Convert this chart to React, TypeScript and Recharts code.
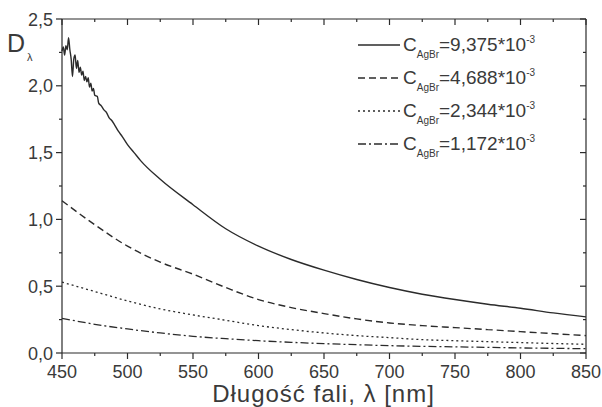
import { LineChart, Line, XAxis, YAxis } from 'recharts';

// wavelengths (nm) for the smooth series, every 25 nm
const grid = [450, 475, 500, 525, 550, 575, 600, 625, 650, 675, 700, 725, 750, 775, 800, 825, 850];

// C = 9,375e-3 : noisy start, then smooth
const solidNm = [
  450, 451, 452, 453, 454, 455, 456, 457, 458, 459, 460, 461, 462, 463, 464, 465, 466, 467, 468, 469,
  470, 471, 472, 473, 474, 475, 477, 478, 480, 482, 484, 486, 488, 490, 493, 496, 500, 505, 510,
  525, 550, 575, 600, 625, 650, 675, 700, 725, 750, 775, 800, 825, 850,
];
const solidD = [
  2.26, 2.29, 2.23, 2.3, 2.27, 2.36, 2.27, 2.2, 2.07, 2.2, 2.23, 2.13, 2.19, 2.1, 2.14, 2.08, 2.11, 2.04, 2.07, 2.03,
  2.06, 1.99, 2.02, 1.96, 1.98, 1.93, 1.92, 1.87, 1.85, 1.82, 1.8, 1.76, 1.74, 1.71, 1.66, 1.62, 1.56, 1.5, 1.44,
  1.3, 1.11, 0.93, 0.8, 0.7, 0.62, 0.55, 0.49, 0.44, 0.4, 0.365, 0.335, 0.3, 0.27,
];
const dashedD = [1.14, 0.96, 0.8, 0.68, 0.59, 0.49, 0.4, 0.34, 0.295, 0.255, 0.225, 0.205, 0.19, 0.175, 0.16, 0.145, 0.13];
const dottedD = [0.53, 0.46, 0.39, 0.33, 0.285, 0.245, 0.205, 0.175, 0.15, 0.13, 0.115, 0.1, 0.092, 0.085, 0.078, 0.071, 0.065];
const dashDotD = [0.26, 0.215, 0.18, 0.15, 0.125, 0.107, 0.092, 0.08, 0.07, 0.062, 0.055, 0.05, 0.046, 0.042, 0.038, 0.035, 0.032];

const legendValues = ['9,375', '4,688', '2,344', '1,172'];
const dashes = ['', '7 4', '2 3', '8 3 2 3'];

const X_MIN = 450;
const X_MAX = 850;
const Y_MIN = 0;
const Y_MAX = 2.5;
const xTicks = [450, 475, 500, 525, 550, 575, 600, 625, 650, 675, 700, 725, 750, 775, 800, 825, 850];
const yTicks = [0, 0.25, 0.5, 0.75, 1, 1.25, 1.5, 1.75, 2, 2.25, 2.5];

const toRows = (xs: number[], ys: number[]) => xs.map((x, i) => ({ x, y: ys[i] }));
const solidData = toRows(solidNm, solidD);
const dashedData = toRows(grid, dashedD);
const dottedData = toRows(grid, dottedD);
const dashDotData = toRows(grid, dashDotD);

const FONT = '"Liberation Sans", Arial, sans-serif';
const INK = '#2b2b2b';
const TXT = '#3a3a3a';

// chart layout (plot box follows from margin + axis sizes)
const W = 602;
const H = 407;
const MARGIN = { top: 19, right: 16, bottom: 0, left: 0 };
const Y_AXIS_W = 62;
const X_AXIS_H = 54;
const PLOT = {
  left: MARGIN.left + Y_AXIS_W,
  top: MARGIN.top,
  right: W - MARGIN.right,
  bottom: H - MARGIN.bottom - X_AXIS_H,
};

const isMajorX = (v: number) => v % 50 === 0;
const isMajorY = (v: number) => Math.abs(v * 2 - Math.round(v * 2)) < 1e-6;
const fmt = (v: number) => v.toFixed(1).replace('.', ',');

function BottomTick({ x, y, payload }: any) {
  const major = isMajorX(payload.value);
  return (
    <g>
      <line x1={x} x2={x} y1={y} y2={y + (major ? 6 : 3)} stroke={INK} strokeWidth={1.2} />
      {major && (
        <text x={x} y={y + 25} textAnchor="middle" fontSize={18} fill={TXT} fontFamily={FONT}>
          {payload.value}
        </text>
      )}
    </g>
  );
}

function LeftTick({ x, y, payload }: any) {
  const major = isMajorY(payload.value);
  return (
    <g>
      <line x1={x - (major ? 6 : 3)} x2={x} y1={y} y2={y} stroke={INK} strokeWidth={1.2} />
      {major && (
        <text x={x - 9} y={y + 6.5} textAnchor="end" fontSize={18} fill={TXT} fontFamily={FONT}>
          {fmt(payload.value)}
        </text>
      )}
    </g>
  );
}

// top and right edges of the frame with inward mirrored ticks
function Frame() {
  const px = (v: number) => PLOT.left + ((v - X_MIN) / (X_MAX - X_MIN)) * (PLOT.right - PLOT.left);
  const py = (v: number) => PLOT.bottom - ((v - Y_MIN) / (Y_MAX - Y_MIN)) * (PLOT.bottom - PLOT.top);
  return (
    <svg width={W} height={H} style={{ position: 'absolute', left: 0, top: 0, pointerEvents: 'none' }}>
      <line x1={PLOT.left} x2={PLOT.right} y1={PLOT.top} y2={PLOT.top} stroke={INK} strokeWidth={1.2} />
      <line x1={PLOT.right} x2={PLOT.right} y1={PLOT.top} y2={PLOT.bottom} stroke={INK} strokeWidth={1.2} />
      {xTicks.map((t) => (
        <line key={`t${t}`} x1={px(t)} x2={px(t)} y1={PLOT.top} y2={PLOT.top + (isMajorX(t) ? 6 : 3)} stroke={INK} strokeWidth={1.2} />
      ))}
      {yTicks.map((t) => (
        <line key={`r${t}`} x1={PLOT.right - (isMajorY(t) ? 6 : 3)} x2={PLOT.right} y1={py(t)} y2={py(t)} stroke={INK} strokeWidth={1.2} />
      ))}
    </svg>
  );
}

export default function App() {
  return (
    <div style={{ position: 'absolute', left: 0, top: 0, width: W, height: H, background: '#fff', fontFamily: FONT }}>
      <LineChart width={W} height={H} margin={MARGIN}>
        <XAxis
          dataKey="x"
          type="number"
          domain={[X_MIN, X_MAX]}
          ticks={xTicks}
          interval={0}
          height={X_AXIS_H}
          tickSize={0}
          tickMargin={0}
          tickLine={false}
          axisLine={{ stroke: INK, strokeWidth: 1.2 }}
          tick={<BottomTick />}
        />
        <YAxis
          type="number"
          domain={[Y_MIN, Y_MAX]}
          ticks={yTicks}
          interval={0}
          width={Y_AXIS_W}
          tickSize={0}
          tickMargin={0}
          tickLine={false}
          axisLine={{ stroke: INK, strokeWidth: 1.2 }}
          tick={<LeftTick />}
        />
        <Line data={solidData} dataKey="y" type="monotone" stroke={INK} strokeWidth={1.4} dot={false} isAnimationActive={false} />
        <Line data={dashedData} dataKey="y" type="monotone" stroke={INK} strokeWidth={1.4} strokeDasharray={dashes[1]} dot={false} isAnimationActive={false} />
        <Line data={dottedData} dataKey="y" type="monotone" stroke={INK} strokeWidth={1.3} strokeDasharray={dashes[2]} dot={false} isAnimationActive={false} />
        <Line data={dashDotData} dataKey="y" type="monotone" stroke={INK} strokeWidth={1.3} strokeDasharray={dashes[3]} dot={false} isAnimationActive={false} />
      </LineChart>

      <Frame />

      {/* y axis title */}
      <div style={{ position: 'absolute', left: 7, top: 28, color: TXT, fontSize: 25, lineHeight: '30px' }}>
        D<span style={{ fontSize: 11, position: 'relative', top: 9, marginLeft: 2 }}>λ</span>
      </div>

      {/* x axis title */}
      <div style={{ position: 'absolute', left: 62, width: 523, top: 383, textAlign: 'center', color: TXT, fontSize: 24, lineHeight: '22px', letterSpacing: 1 }}>
        Długość fali, λ [nm]
      </div>

      {/* legend */}
      <div style={{ position: 'absolute', left: 357, top: 28, color: TXT }}>
        {legendValues.map((v, i) => (
          <div key={v} style={{ display: 'flex', alignItems: 'center', height: 33 }}>
            <svg width={44} height={10} style={{ marginRight: 2 }}>
              <line x1={1} x2={43} y1={5} y2={5} stroke={INK} strokeWidth={1.4} strokeDasharray={dashes[i] || undefined} />
            </svg>
            <span style={{ fontSize: 19, whiteSpace: 'nowrap' }}>
              C<span style={{ fontSize: 10, position: 'relative', top: 7 }}>AgBr</span>={v}*10
              <span style={{ fontSize: 10, position: 'relative', top: -8 }}>-3</span>
            </span>
          </div>
        ))}
      </div>
    </div>
  );
}
